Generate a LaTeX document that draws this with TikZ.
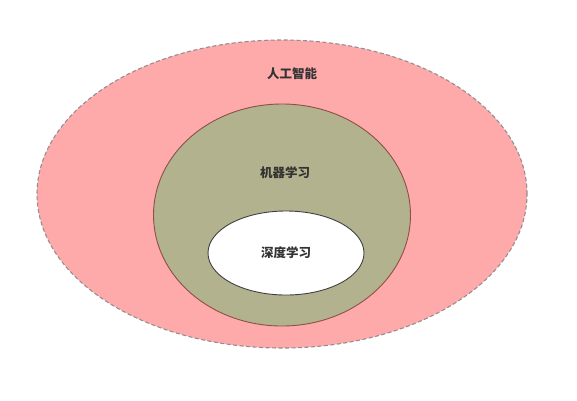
\documentclass[tikz,border=0pt]{standalone}
\usepackage{fontspec}
\newfontfamily\cjk{Noto Sans CJK SC}
\usetikzlibrary{shapes.geometric}
\definecolor{aipink}{RGB}{255,170,170}
\definecolor{mlolive}{RGB}{178,178,142}
\definecolor{mledge}{RGB}{140,80,70}
\definecolor{aiedge}{RGB}{150,140,145}
\tikzset{
  area/.style={ellipse,inner sep=0pt,outer sep=0pt,line width=0.9pt},
  lbl/.style={font=\cjk\bfseries\fontsize{12.5}{14}\selectfont,text=black!80}
}
\begin{document}
\begin{tikzpicture}[x=1pt,y=-1pt]
  \useasboundingbox (0,0) rectangle (577,400);
  \begin{scope}[every node/.style={area}]
    \node[draw=aiedge,dash pattern=on 4pt off 2.5pt,line width=1.1pt,fill=aipink,minimum width=490pt,minimum height=308pt] (ai) at (282,194) {};
    \node[draw=mledge,fill=mlolive,minimum width=257pt,minimum height=222pt] (ml) at (282,215) {};
    \node[draw=black!75,fill=white,minimum width=156pt,minimum height=84pt] (dl) at (286,253) {};
  \end{scope}
  \begin{scope}[every node/.style={lbl}]
    \node (ailbl) at ([xshift=10pt,yshift=-34pt]ai.north) {人工智能};
    \node (mllbl) at ([xshift=3pt,yshift=-69pt]ml.north) {机器学习};
    \node (dllbl) at (dl) {深度学习};
  \end{scope}
\end{tikzpicture}
\end{document}
